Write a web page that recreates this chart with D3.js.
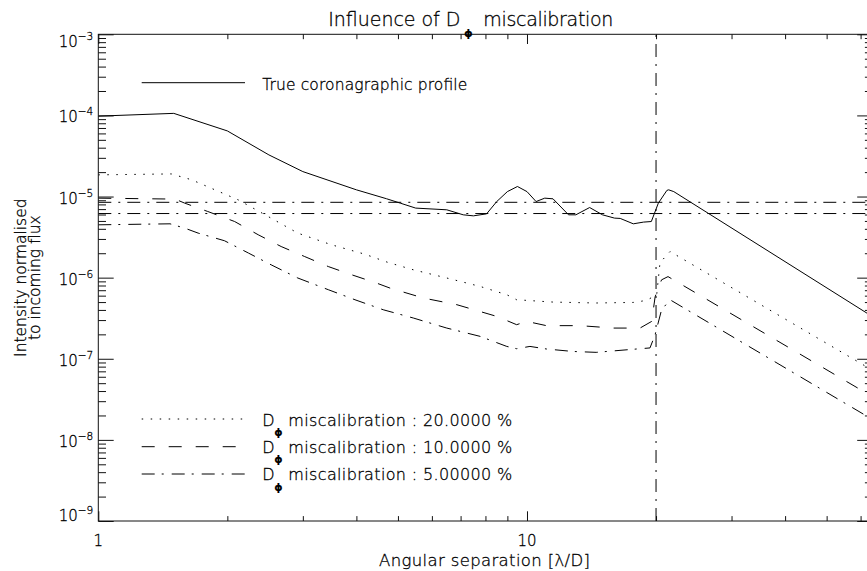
<!DOCTYPE html>
<html><head><meta charset="utf-8">
<script src="https://cdn.jsdelivr.net/npm/d3@7"></script>
<style>
html,body{margin:0;padding:0;background:#fff;}
svg{display:block;font-family:"DejaVu Sans",sans-serif;}
svg text{font-weight:200;stroke:#000;stroke-width:0.3px;}
svg text.phi{font-weight:bold;stroke:none;}
</style></head><body>
<svg id="chart" width="867" height="571"></svg>
<script>
// ---------- data ----------
const sepTrue = [1, 1.5, 2, 2.5, 3, 4, 4.7, 5.06, 5.5, 6.5, 7.1, 7.5, 8.05, 8.5, 9, 9.5, 10, 10.5, 11, 11.5, 12.5, 13, 14, 15, 16, 16.5, 17.7, 18.7, 19.5, 20.25, 21.2, 21.4, 22, 64];
const valTrue = [9.8e-5, 1.06e-4, 6.44e-5, 3.26e-5, 2.03e-5, 1.21e-5, 9.4e-6, 8.3e-6, 7.2e-6, 6.86e-6, 5.95e-6, 5.78e-6, 6.12e-6, 8.67e-6, 1.15e-5, 1.33e-5, 1.15e-5, 8.67e-6, 9.55e-6, 9.37e-6, 5.95e-6, 5.95e-6, 7.32e-6, 5.95e-6, 5.42e-6, 5.37e-6, 4.61e-6, 4.84e-6, 4.92e-6, 8.3e-6, 1.19e-5, 1.21e-5, 1.15e-5, 3.3e-7];

const sep20 = [1, 1.48, 1.65, 2.12, 2.45, 2.92, 3.5, 4.18, 4.74, 5.43, 6.5, 7.77, 8.97, 9.46, 11.5, 14.5, 17.7, 19.0, 20.07, 20.43, 21.56, 64];
const val20 = [1.85e-5, 1.9e-5, 1.61e-5, 9.1e-6, 5.95e-6, 3.54e-6, 2.54e-6, 1.95e-6, 1.54e-6, 1.25e-6, 9.9e-7, 7.8e-7, 6.16e-7, 5.34e-7, 5.0e-7, 4.87e-7, 4.95e-7, 5.24e-7, 6.16e-7, 1.53e-6, 2.1e-6, 7.2e-8];

const sep10 = [1, 1.51, 1.59, 1.8, 2.08, 2.36, 2.67, 3.03, 3.44, 3.89, 4.45, 4.79, 5.73, 6.86, 8.5, 9.46, 9.98, 11.1, 13.3, 15.9, 18.35, 19.54, 19.9, 20.6, 21.33, 64];
const val10 = [9.55e-6, 9.3e-6, 8.3e-6, 6.54e-6, 4.92e-6, 3.38e-6, 2.42e-6, 1.82e-6, 1.37e-6, 1.09e-6, 8.6e-7, 7.44e-7, 5.61e-7, 4.64e-7, 3.33e-7, 2.63e-7, 2.89e-7, 2.56e-7, 2.56e-7, 2.39e-7, 2.39e-7, 2.89e-7, 5.8e-7, 9.4e-7, 1.03e-6, 3.4e-8];

const sep5 = [1, 1.47, 1.59, 1.71, 1.97, 2.24, 2.53, 2.92, 3.44, 3.97, 4.62, 5.43, 6.5, 7.77, 8.97, 9.46, 10.16, 11.1, 12.8, 14.5, 17.4, 19.36, 19.9, 20.6, 21.56, 64];
const val5 = [4.48e-6, 4.61e-6, 4.08e-6, 3.54e-6, 2.85e-6, 2.01e-6, 1.44e-6, 9.9e-7, 7.1e-7, 5.34e-7, 4.02e-7, 3.18e-7, 2.39e-7, 1.89e-7, 1.42e-7, 1.33e-7, 1.42e-7, 1.32e-7, 1.23e-7, 1.2e-7, 1.3e-7, 1.36e-7, 1.98e-7, 4.0e-7, 5.34e-7, 1.78e-8];

const refLevels = [8.49e-6, 6.17e-6];   // horizontal dash-dot lines
const refSep = 20;                      // vertical dash-dot line
const xDomain = [1, 64];
const yDomain = [1e-9, 1e-3];
const xMajorTicks = [1, 10];
const xMinorTicks = [2, 3, 4, 5, 6, 7, 8, 9, 20, 30, 40, 50, 60];
const xTickLabels = ["1", "10"];
const yExponents = [-9, -8, -7, -6, -5, -4, -3];
const titleParts = ["Influence of D", "miscalibration"];
const phi = "\u03D5";
const trueLabel = "True coronagraphic profile";
const calibLabels = ["miscalibration : 20.0000 %", "miscalibration : 10.0000 %", "miscalibration : 5.00000 %"];
const xTitle = "Angular separation [\u03BB/D]";
const yTitle = ["Intensity normalised", "to incoming flux"];

// ---------- layout ----------
const m = {left: 98.3, top: 34.3, right: 872.6, bottom: 521};
const svg = d3.select("#chart");
const x = d3.scaleLog().domain(xDomain).range([m.left, m.right]);
const y = d3.scaleLog().domain(yDomain).range([m.bottom, m.top]);
const ink = "#000";

svg.append("defs").append("clipPath").attr("id", "plotclip")
  .append("rect").attr("x", m.left).attr("y", m.top)
  .attr("width", m.right - m.left).attr("height", m.bottom - m.top);

// box
svg.append("rect").attr("x", m.left).attr("y", m.top)
  .attr("width", m.right - m.left).attr("height", m.bottom - m.top)
  .attr("fill", "none").attr("stroke", "#111").attr("stroke-width", 1);

// ticks
const yMinor = [];
yExponents.slice(0, -1).forEach(e => { for (let k = 2; k <= 9; k++) yMinor.push(k * Math.pow(10, e)); });
const yMajor = yExponents.map(e => Math.pow(10, e));
const xLong = 9.7, xShort = 4.9, yLong = 15.4, yShort = 7.7;
function addAxis(gen, tx, ty) {
  const g = svg.append("g").attr("transform", `translate(${tx},${ty})`).call(gen);
  g.select(".domain").remove();
  g.selectAll("text").remove();
  g.selectAll("line").attr("stroke", "#111");
}
addAxis(d3.axisBottom(x).tickValues(xMajorTicks).tickSize(-xLong), 0, m.bottom);
addAxis(d3.axisBottom(x).tickValues(xMinorTicks).tickSize(-xShort), 0, m.bottom);
addAxis(d3.axisTop(x).tickValues(xMajorTicks).tickSize(-xLong), 0, m.top);
addAxis(d3.axisTop(x).tickValues(xMinorTicks).tickSize(-xShort), 0, m.top);
addAxis(d3.axisLeft(y).tickValues(yMajor).tickSize(-yLong), m.left, 0);
addAxis(d3.axisLeft(y).tickValues(yMinor).tickSize(-yShort), m.left, 0);
addAxis(d3.axisRight(y).tickValues(yMajor).tickSize(-yLong), m.right, 0);
addAxis(d3.axisRight(y).tickValues(yMinor).tickSize(-yShort), m.right, 0);

// y tick labels
yExponents.forEach(e => {
  const base = Math.min(Math.max(y(Math.pow(10, e)) + 7, m.top + 12.4), m.bottom - 0.3);
  const t = svg.append("text").attr("x", 93.3).attr("y", base)
    .attr("text-anchor", "end").attr("font-size", 15).attr("fill", ink);
  t.append("tspan").text("10");
  t.append("tspan").attr("dy", -7).attr("font-size", 10.5).text("\u2212" + Math.abs(e));
});
// x tick labels
xMajorTicks.forEach((v, i) => {
  svg.append("text").attr("x", x(v)).attr("y", 545.5).attr("text-anchor", "middle")
    .attr("font-size", 15).attr("fill", ink).text(xTickLabels[i]);
});

// axis titles
svg.append("text").attr("x", 484.5).attr("y", 565.5).attr("text-anchor", "middle")
  .attr("font-size", 16.5).attr("fill", ink).attr("textLength", 211).text(xTitle);
[26, 40].forEach((bx, i) => {
  svg.append("text").attr("transform", `translate(${bx},${(m.top + m.bottom) / 2}) rotate(-90)`)
    .attr("text-anchor", "middle").attr("font-size", 15.5).attr("fill", ink).text(yTitle[i]);
});

// title
svg.append("text").attr("x", 328.3).attr("y", 26).attr("font-size", 19).attr("fill", ink)
  .attr("textLength", 132).text(titleParts[0]);
svg.append("text").attr("class", "phi").attr("x", 468.5).attr("y", 36.5).attr("font-size", 11)
  .attr("text-anchor", "middle").attr("fill", ink).text(phi);
svg.append("text").attr("x", 483.3).attr("y", 26).attr("font-size", 19).attr("fill", ink)
  .attr("textLength", 130).text(titleParts[1]);

// curves
const styles = {
  solid: null,
  dot: "1.5,7.5",
  dash: "13,14",
  dashdot: "13,7,2,8",
  ref: "13,7,2,7"
};
const line = d3.line().x(d => x(d[0])).y(d => y(d[1]));
const plot = svg.append("g").attr("clip-path", "url(#plotclip)");
function curve(xs, ys, dash) {
  plot.append("path").datum(xs.map((v, i) => [v, ys[i]]))
    .attr("d", line).attr("fill", "none").attr("stroke", "#000").attr("stroke-width", 1)
    .attr("stroke-dasharray", dash);
}
curve(sepTrue, valTrue, styles.solid);
curve(sep20, val20, styles.dot);
curve(sep10, val10, styles.dash);
curve(sep5, val5, styles.dashdot);
refLevels.forEach(v => curve(xDomain, [v, v], styles.ref));
plot.append("line").attr("x1", x(refSep)).attr("x2", x(refSep))
  .attr("y1", y(yDomain[0])).attr("y2", y(yDomain[1]))
  .attr("stroke", "#000").attr("stroke-width", 1).attr("stroke-dasharray", styles.ref);

// legends
const lx1 = 141.7, lx2 = 245;
svg.append("line").attr("x1", lx1).attr("x2", lx2).attr("y1", 82.7).attr("y2", 82.7)
  .attr("stroke", "#000").attr("stroke-width", 1);
svg.append("text").attr("x", 262.3).attr("y", 90).attr("font-size", 15.5).attr("fill", ink)
  .attr("textLength", 205).text(trueLabel);

const rowLine = [419, 446.7, 474];
const rowBase = [425.7, 452.7, 480];
const rowDash = [styles.dot, styles.dash, styles.dashdot];
calibLabels.forEach((lab, i) => {
  svg.append("line").attr("x1", lx1).attr("x2", lx2).attr("y1", rowLine[i]).attr("y2", rowLine[i])
    .attr("stroke", "#000").attr("stroke-width", 1).attr("stroke-dasharray", rowDash[i]);
  svg.append("text").attr("x", 262.3).attr("y", rowBase[i]).attr("font-size", 16).attr("fill", ink).text("D");
  svg.append("text").attr("class", "phi").attr("x", 278.5).attr("y", rowBase[i] + 10.5).attr("font-size", 10.5)
    .attr("text-anchor", "middle").attr("fill", ink).text(phi);
  svg.append("text").attr("x", 288.3).attr("y", rowBase[i]).attr("font-size", 16).attr("fill", ink)
    .attr("textLength", 224).text(lab);
});
</script>
</body></html>
